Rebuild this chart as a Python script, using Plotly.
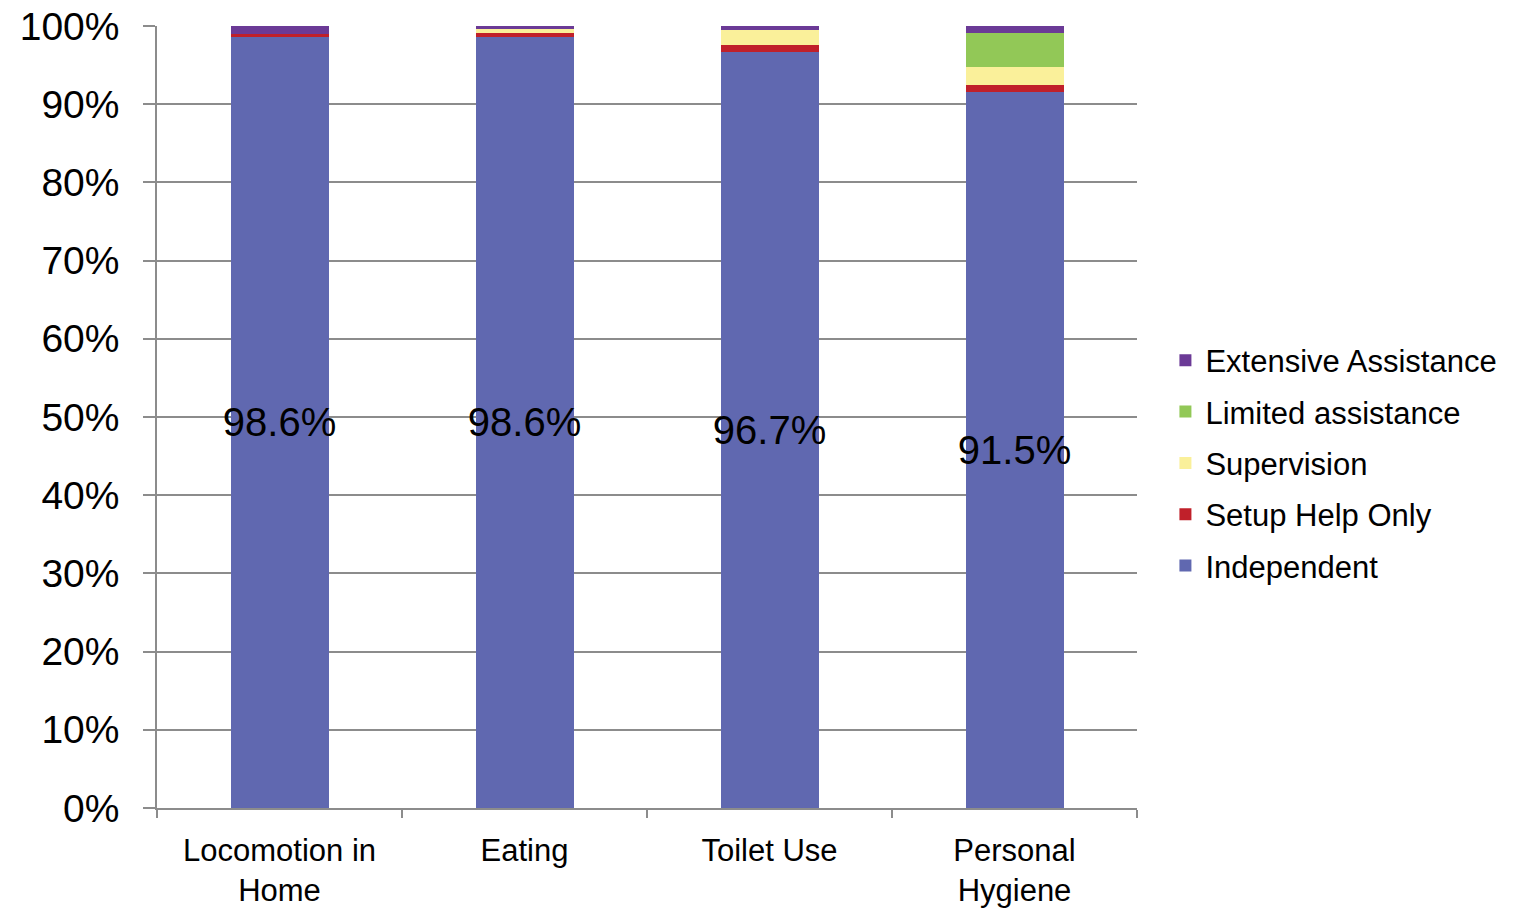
import plotly.graph_objects as go

categories = ["Locomotion in<br>Home", "Eating", "Toilet Use", "Personal<br>Hygiene"]

independent = [98.6, 98.6, 96.7, 91.5]
setup_help = [0.4, 0.5, 0.9, 1.0]
supervision = [0.0, 0.5, 1.9, 2.3]
limited = [0.0, 0.0, 0.0, 4.3]
extensive = [1.0, 0.4, 0.5, 0.9]

independent_labels = ["98.6%", "98.6%", "96.7%", "91.5%"]

series = [
    ("Independent", independent, "#6068B0"),
    ("Setup Help Only", setup_help, "#C0202A"),
    ("Supervision", supervision, "#FAF09A"),
    ("Limited assistance", limited, "#92C857"),
    ("Extensive Assistance", extensive, "#6B3A96"),
]

FONT = "Liberation Sans, Arial, sans-serif"

fig = go.Figure()
n = len(series)
for i, (name, vals, color) in enumerate(series):
    kw = {}
    if name == "Independent":
        kw = dict(
            text=independent_labels,
            textposition="inside",
            insidetextanchor="middle",
            textangle=0,
            constraintext="none",
            textfont=dict(family=FONT, size=40, color="black"),
        )
    fig.add_trace(go.Bar(
        name=name, x=categories, y=[v / 100 for v in vals],
        marker=dict(color=color, line=dict(width=0)),
        legendgroup=name,
        legendrank=n - i,
        hoverinfo="skip",
        **kw,
    ))

fig.update_layout(
    barmode="stack",
    bargap=0.6,
    width=1514, height=908,
    margin=dict(l=157, r=374, t=26, b=100),
    paper_bgcolor="white",
    plot_bgcolor="white",
    font=dict(family=FONT, color="black"),
    legend=dict(
        traceorder="grouped",
        x=1.029, xanchor="left",
        y=0.441, yanchor="middle",
        font=dict(family=FONT, size=31, color="black"),
        tracegroupgap=8,
    ),
    showlegend=True,
)

fig.update_yaxes(
    range=[0, 1],
    tickvals=[i / 10 for i in range(11)],
    tickformat=".0%",
    tickfont=dict(family=FONT, size=39, color="black"),
    showgrid=True, gridcolor="#8C8C8C", gridwidth=1.5,
    showline=True, linecolor="#8C8C8C", linewidth=1.5,
    ticks="outside", ticklen=12, tickcolor="#8C8C8C", tickwidth=1.5,
    zeroline=False,
    ticklabelstandoff=16,
    automargin=False,
)

fig.update_xaxes(
    tickfont=dict(family=FONT, size=31, color="black"),
    showline=True, linecolor="#8C8C8C", linewidth=1.5,
    ticks="outside", ticklen=8, tickcolor="#8C8C8C", tickwidth=1.5,
    tickson="boundaries",
    showgrid=False,
    ticklabelstandoff=14,
    automargin=False,
)

fig.write_html("out.html")
